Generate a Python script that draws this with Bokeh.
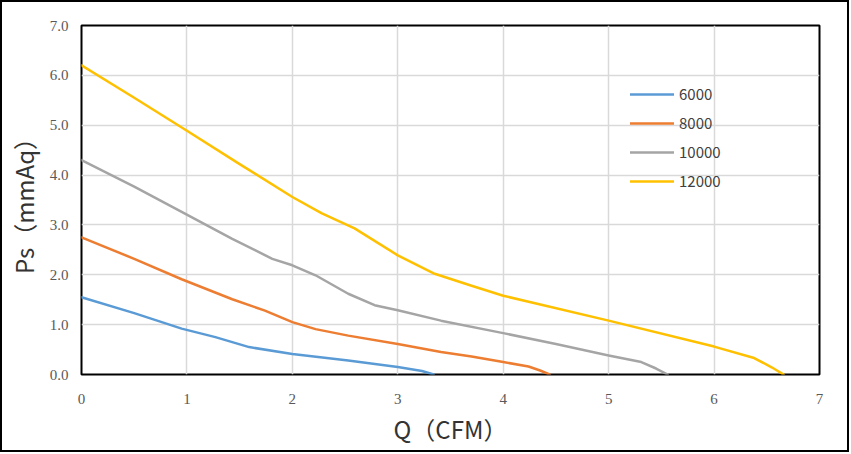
from bokeh.plotting import figure
from bokeh.models import Range1d, FixedTicker, PrintfTickFormatter, Legend, LegendItem
from bokeh.embed import file_html
from bokeh.resources import INLINE

# ---- data ----
series_names = ["6000", "8000", "10000", "12000"]

q_6000 = [0, 0.5, 0.95, 1.27, 1.59, 2.0, 2.53, 3.0, 3.23, 3.34]
p_6000 = [1.55, 1.23, 0.92, 0.75, 0.55, 0.41, 0.28, 0.15, 0.07, 0.0]

q_8000 = [0, 0.5, 0.95, 1.43, 1.74, 2.0, 2.22, 2.53, 3.0, 3.41, 3.70, 4.0, 4.24, 4.35, 4.44]
p_8000 = [2.75, 2.32, 1.91, 1.51, 1.28, 1.05, 0.91, 0.78, 0.61, 0.45, 0.36, 0.25, 0.16, 0.08, 0.0]

q_10000 = [0, 0.5, 0.95, 1.43, 1.81, 2.0, 2.22, 2.53, 2.78, 3.0, 3.41, 4.0, 4.5, 5.0, 5.31, 5.45, 5.56]
p_10000 = [4.3, 3.77, 3.26, 2.72, 2.32, 2.19, 1.99, 1.62, 1.39, 1.29, 1.08, 0.83, 0.61, 0.38, 0.25, 0.12, 0.0]

q_12000 = [0, 0.5, 1.0, 1.5, 2.0, 2.28, 2.59, 3.0, 3.35, 3.7, 4.0, 5.0, 6.0, 6.38, 6.55, 6.66]
p_12000 = [6.2, 5.55, 4.89, 4.22, 3.56, 3.23, 2.93, 2.39, 2.02, 1.78, 1.58, 1.08, 0.56, 0.33, 0.14, 0.0]

x_ticks = [0, 1, 2, 3, 4, 5, 6, 7]
y_ticks = [0, 1, 2, 3, 4, 5, 6, 7]

x_title = "Q（CFM）"
y_title = "Ps（mmAq）"

colors = ["#5B9BD5", "#ED7D31", "#A5A5A5", "#FFC000"]

# ---- figure ----
p = figure(width=849, height=452, output_backend="svg", toolbar_location=None,
           x_range=Range1d(0, 7), y_range=Range1d(0, 7),
           min_border_left=77, min_border_right=32, min_border_top=23, min_border_bottom=80)
p.styles = {"border": "2px solid black"}
p.background_fill_color = "white"
p.border_fill_color = "white"
p.outline_line_color = "black"
p.outline_line_width = 2

p.xgrid.grid_line_color = "#D9D9D9"
p.ygrid.grid_line_color = "#D9D9D9"
p.xgrid.grid_line_width = 1.5
p.ygrid.grid_line_width = 1.5

p.xaxis.ticker = FixedTicker(ticks=x_ticks)
p.yaxis.ticker = FixedTicker(ticks=y_ticks)
p.yaxis.formatter = PrintfTickFormatter(format="%.1f")

for ax in (p.xaxis[0], p.yaxis[0]):
    ax.axis_line_color = None
    ax.major_tick_line_color = None
    ax.minor_tick_line_color = None
    ax.major_tick_out = 0
    ax.major_tick_in = 0
    ax.major_label_text_font = "Liberation Serif"
    ax.major_label_text_font_size = "15px"
    ax.major_label_text_color = "#595959"
    ax.axis_label_text_font = "Noto Sans CJK SC"
    ax.axis_label_text_font_size = "24px"
    ax.axis_label_text_font_style = "normal"
    ax.axis_label_text_color = "#333333"

p.xaxis.axis_label = x_title
p.yaxis.axis_label = y_title
p.xaxis.major_label_standoff = 19
p.yaxis.major_label_standoff = 13
p.xaxis.axis_label_standoff = 4
p.yaxis.axis_label_standoff = 6

qs = [q_6000, q_8000, q_10000, q_12000]
ps = [p_6000, p_8000, p_10000, p_12000]
items = []
for name, q, pr, c in zip(series_names, qs, ps, colors):
    r = p.line(q, pr, line_color=c, line_width=2.5, line_join="round", line_cap="round")
    items.append(LegendItem(label=name, renderers=[r]))

legend = Legend(items=items, location=(549, 183), orientation="vertical")
legend.border_line_color = None
legend.background_fill_alpha = 0
legend.padding = 0
legend.margin = 0
legend.spacing = 8
legend.glyph_width = 44
legend.glyph_height = 20
legend.label_height = 20
legend.label_standoff = 5
legend.label_text_font = "Noto Sans CJK SC"
legend.label_text_font_size = "15px"
legend.label_text_color = "#404040"
p.add_layout(legend, "center")

open("out.html", "w").write(file_html(p, INLINE))
